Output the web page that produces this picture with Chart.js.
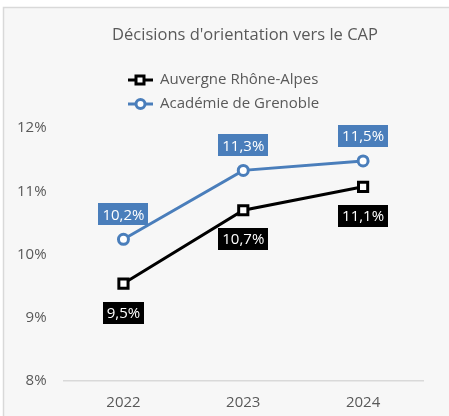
<!DOCTYPE html>
<html lang="fr">
<head>
<meta charset="UTF-8">
<title>Décisions d'orientation vers le CAP</title>
<script src="https://cdn.jsdelivr.net/npm/chart.js@4"></script>
<style>
  html, body { margin: 0; padding: 0; background: #fff; }
  #wrap { width: 449px; height: 416px; position: relative; }
</style>
</head>
<body>
<div id="wrap"><canvas id="cap"></canvas></div>
<script>
// données
const years = ['2022', '2023', '2024'];
const auvergneRA = [9.54, 10.70, 11.07];
const grenoble = [10.24, 11.33, 11.48];
const yTicks = [8, 9, 10, 11, 12];

const grey = '#595959';
const blue = '#4a7ebb';
const font = "'Open Sans', sans-serif";

const fmt = v => v.toFixed(1).replace('.', ',') + '%';

// cadre + titre + légende dessinés à la main
const decor = {
  id: 'decor',
  beforeDraw(chart) {
    const c = chart.ctx;
    c.save();
    c.fillStyle = '#fff';
    c.fillRect(0, 0, chart.width, chart.height);
    c.fillStyle = '#f7f7f7';
    c.fillRect(3, 7, chart.width, chart.height);
    c.strokeStyle = '#d9d9d9';
    c.lineWidth = 1.5;
    c.beginPath();
    c.moveTo(3.5, chart.height);
    c.lineTo(3.5, 7.5);
    c.lineTo(chart.width, 7.5);
    c.stroke();

    c.fillStyle = grey;
    c.font = '16.5px ' + font;
    c.textAlign = 'center';
    c.textBaseline = 'middle';
    c.fillText("Décisions d'orientation vers le CAP", 245, 35);

    const items = chart.data.datasets;
    items.forEach((ds, i) => {
      const y = 80 + i * 24;
      c.strokeStyle = ds.borderColor;
      c.lineWidth = 3;
      c.beginPath();
      c.moveTo(128, y);
      c.lineTo(153, y);
      c.stroke();
      c.fillStyle = '#fff';
      c.beginPath();
      if (ds.pointStyle === 'rect') {
        c.rect(136, y - 4, 8, 8);
      } else {
        c.arc(140.5, y, 4.5, 0, Math.PI * 2);
      }
      c.fill();
      c.stroke();
      c.fillStyle = grey;
      c.font = '15px ' + font;
      c.textAlign = 'left';
      c.fillText(ds.label, 160, y);
    });
    c.restore();
  }
};

// étiquettes de valeurs en boîtes colorées
const boxLabels = {
  id: 'boxLabels',
  afterDatasetsDraw(chart) {
    const c = chart.ctx;
    c.save();
    c.font = '15px ' + font;
    c.textAlign = 'center';
    c.textBaseline = 'middle';
    chart.data.datasets.forEach((ds, i) => {
      const meta = chart.getDatasetMeta(i);
      meta.data.forEach((pt, j) => {
        const txt = fmt(ds.data[j]);
        const w = c.measureText(txt).width + 8;
        const h = 22;
        const cy = pt.y + ds.labelOffset;
        c.fillStyle = ds.borderColor;
        c.fillRect(Math.round(pt.x - w / 2), Math.round(cy - h / 2), Math.round(w), h);
        c.fillStyle = '#fff';
        c.fillText(txt, pt.x, cy + 1);
      });
    });
    c.restore();
  }
};

new Chart(document.getElementById('cap'), {
  type: 'line',
  data: {
    labels: years,
    datasets: [
      {
        label: 'Auvergne Rhône-Alpes',
        data: auvergneRA,
        borderColor: '#000',
        backgroundColor: '#fff',
        borderWidth: 3,
        pointStyle: 'rect',
        pointRadius: 6.5,
        pointBorderWidth: 3,
        pointBackgroundColor: '#fff',
        labelOffset: 29
      },
      {
        label: 'Académie de Grenoble',
        data: grenoble,
        borderColor: blue,
        backgroundColor: '#fff',
        borderWidth: 3,
        pointStyle: 'circle',
        pointRadius: 5,
        pointBorderWidth: 3,
        pointBackgroundColor: '#fff',
        labelOffset: -25
      }
    ]
  },
  options: {
    responsive: true,
    maintainAspectRatio: false,
    animation: false,
    layout: { padding: { top: 128, left: 0, right: 26, bottom: 0 } },
    plugins: {
      legend: { display: false },
      title: { display: false },
      tooltip: { enabled: false }
    },
    scales: {
      x: {
        offset: true,
        grid: { display: false, drawTicks: false },
        border: { display: true, color: '#d9d9d9', width: 1.5 },
        ticks: { color: grey, font: { family: font, size: 15 }, padding: 13 },
        afterFit: axis => { axis.height = 35; }
      },
      y: {
        min: yTicks[0],
        max: yTicks[yTicks.length - 1],
        afterBuildTicks: axis => { axis.ticks = yTicks.map(v => ({ value: v })); },
        grid: { display: false, drawTicks: false },
        border: { display: false },
        ticks: {
          color: grey,
          font: { family: font, size: 15 },
          padding: 17,
          callback: v => v + '%'
        }
      }
    }
  },
  plugins: [decor, boxLabels]
});
</script>
</body>
</html>
